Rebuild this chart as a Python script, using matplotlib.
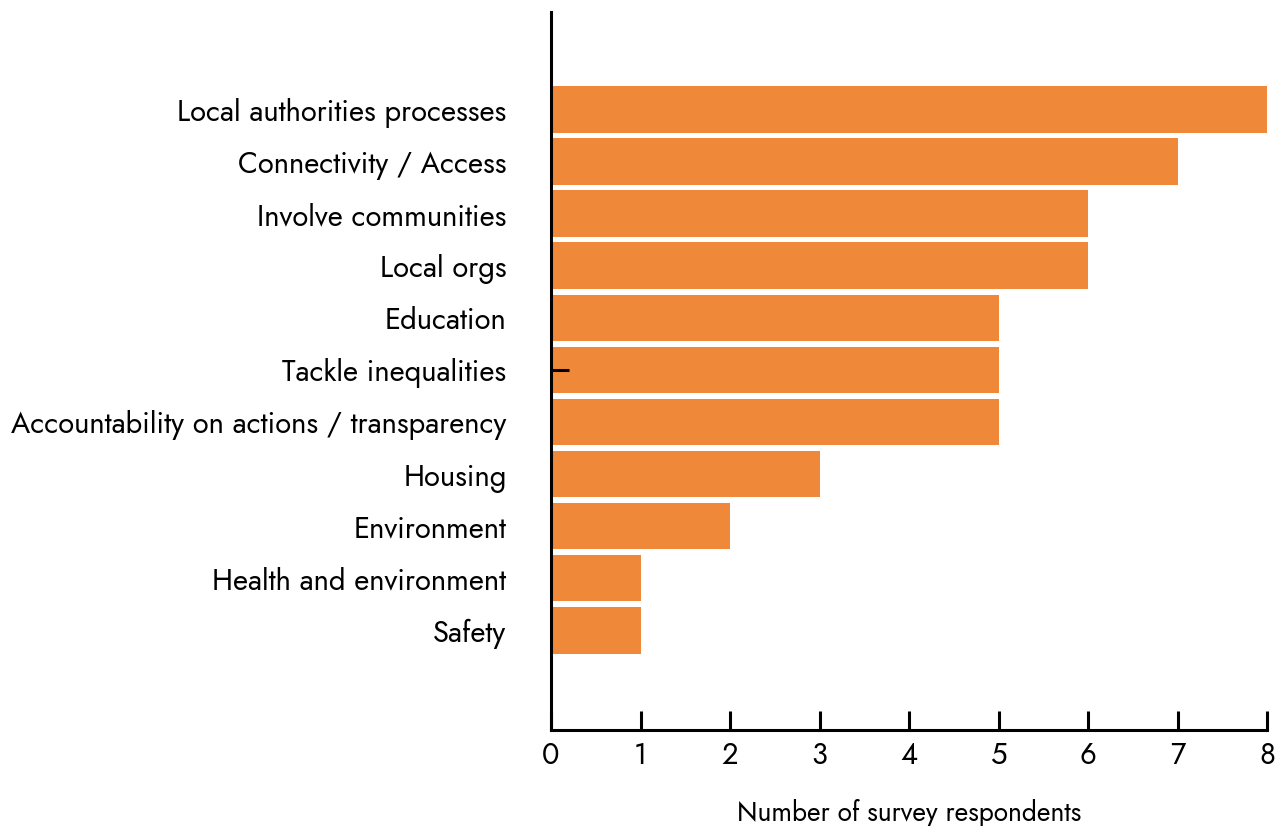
import matplotlib.pyplot as plt

categories = ["Local authorities processes", "Connectivity / Access", "Involve communities",
              "Local orgs", "Education", "Tackle inequalities",
              "Accountability on actions / transparency", "Housing", "Environment",
              "Health and environment", "Safety"]
counts = [8, 7, 6, 6, 5, 5, 5, 3, 2, 1, 1]
xticks = [0, 1, 2, 3, 4, 5, 6, 7, 8]

plt.rcParams['font.family'] = ['Jost', 'Lato', 'DejaVu Sans']

fig = plt.figure(figsize=(12.75, 8.26), dpi=100)
ax = fig.add_axes([551/1275, 96/826, 716/1275, 718/826])

pos = list(range(len(categories)))
ax.barh(pos, counts, height=0.9, color='#F0883A')

ax.set_xlim(0, 8)
ax.set_ylim(len(categories) - 1 + 1.92, -1.88)

ax.spines['top'].set_visible(False)
ax.spines['right'].set_visible(False)
ax.spines['left'].set_linewidth(2.2)
ax.spines['bottom'].set_linewidth(2.2)

ax.set_xticks(xticks)
ax.tick_params(axis='x', direction='in', length=14, width=2.2, labelsize=21, pad=8)
ax.set_yticks(pos)
ax.set_yticklabels(categories)
ax.tick_params(axis='y', length=0, labelsize=21, pad=32)
ax.yaxis.remove_overlapping_locs = False
ax.set_yticks([5], minor=True)
ax.tick_params(axis='y', which='minor', direction='in', length=13, width=2.2)

ax.set_xlabel("Number of survey respondents", fontsize=19, labelpad=20)

fig.savefig("out.png", dpi=100)
